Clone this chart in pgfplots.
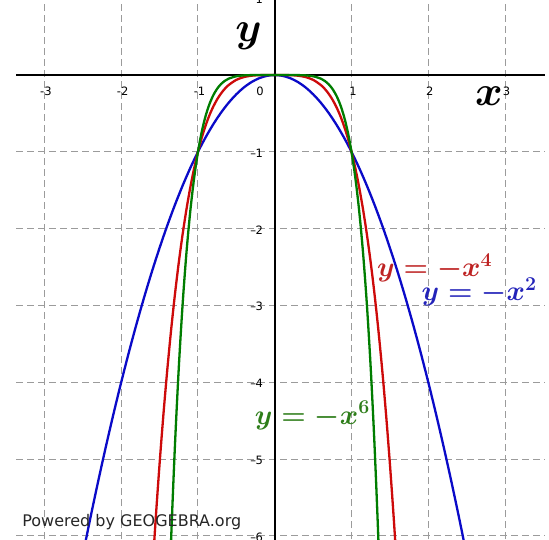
\RequirePackage{fix-cm}
\documentclass[border=0pt]{standalone}
\usepackage{amsmath}
\usepackage{fontspec}
\usepackage{pgfplots}
\pgfplotsset{compat=1.18}
\newfontfamily\ggb{DejaVu Sans}

\definecolor{cblue}{RGB}{10,10,200}
\definecolor{cred}{RGB}{205,10,10}
\definecolor{cgreen}{RGB}{0,125,0}
\definecolor{lblue}{RGB}{35,35,185}
\definecolor{lred}{RGB}{190,35,35}
\definecolor{lgreen}{RGB}{45,125,25}
\definecolor{gridgray}{RGB}{155,155,155}

\begin{document}
\begin{tikzpicture}
\begin{axis}[
  at={(0,0)}, anchor=south west,
  scale only axis, width=529pt, height=539pt,
  xmin=-3.37, xmax=3.52, ymin=-6.04, ymax=0.977,
  axis line style={draw=none}, tick style={draw=none},
  xtick={-3,...,3}, ytick={-6,...,1},
  xticklabels={}, yticklabels={},
  grid=major,
  major grid style={gridgray, line width=1pt, dash pattern=on 7pt off 4pt},
]
% coordinate axes
\draw[line width=2.4pt] (axis cs:-3.37,0) -- (axis cs:3.52,0);
\draw[line width=2.4pt] (axis cs:0,-6.1) -- (axis cs:0,1.1);

% y = -x^2
\addplot[cblue, line width=2.3pt, smooth] coordinates {
(-2.5,-6.25)(-2.4,-5.76)(-2.3,-5.29)(-2.2,-4.84)(-2.1,-4.41)(-2.0,-4)
(-1.9,-3.61)(-1.8,-3.24)(-1.7,-2.89)(-1.6,-2.56)(-1.5,-2.25)(-1.4,-1.96)
(-1.3,-1.69)(-1.2,-1.44)(-1.1,-1.21)(-1,-1)(-0.9,-0.81)(-0.8,-0.64)
(-0.7,-0.49)(-0.6,-0.36)(-0.5,-0.25)(-0.4,-0.16)(-0.3,-0.09)(-0.2,-0.04)
(-0.1,-0.01)(0,0)
(0.1,-0.01)(0.2,-0.04)(0.3,-0.09)(0.4,-0.16)(0.5,-0.25)(0.6,-0.36)
(0.7,-0.49)(0.8,-0.64)(0.9,-0.81)(1,-1)(1.1,-1.21)(1.2,-1.44)(1.3,-1.69)
(1.4,-1.96)(1.5,-2.25)(1.6,-2.56)(1.7,-2.89)(1.8,-3.24)(1.9,-3.61)(2.0,-4)
(2.1,-4.41)(2.2,-4.84)(2.3,-5.29)(2.4,-5.76)(2.5,-6.25)
};

% y = -x^4
\addplot[cred, line width=2.3pt, smooth] coordinates {
(-1.6,-6.5536)(-1.55,-5.7720)(-1.5,-5.0625)(-1.45,-4.4205)(-1.4,-3.8416)
(-1.35,-3.3215)(-1.3,-2.8561)(-1.25,-2.4414)(-1.2,-2.0736)(-1.15,-1.7490)
(-1.1,-1.4641)(-1.05,-1.2155)(-1,-1)(-0.95,-0.8145)(-0.9,-0.6561)
(-0.85,-0.5220)(-0.8,-0.4096)(-0.75,-0.3164)(-0.7,-0.2401)(-0.65,-0.1785)
(-0.6,-0.1296)(-0.5,-0.0625)(-0.4,-0.0256)(-0.3,-0.0081)(-0.2,-0.0016)
(-0.1,-0.0001)(0,0)
(0.1,-0.0001)(0.2,-0.0016)(0.3,-0.0081)(0.4,-0.0256)(0.5,-0.0625)
(0.6,-0.1296)(0.65,-0.1785)(0.7,-0.2401)(0.75,-0.3164)(0.8,-0.4096)
(0.85,-0.5220)(0.9,-0.6561)(0.95,-0.8145)(1,-1)(1.05,-1.2155)(1.1,-1.4641)
(1.15,-1.7490)(1.2,-2.0736)(1.25,-2.4414)(1.3,-2.8561)(1.35,-3.3215)
(1.4,-3.8416)(1.45,-4.4205)(1.5,-5.0625)(1.55,-5.7720)(1.6,-6.5536)
};

% y = -x^6
\addplot[cgreen, line width=2.3pt, smooth] coordinates {
(-1.4,-7.5295)(-1.35,-6.0535)(-1.3,-4.8268)(-1.25,-3.8147)(-1.2,-2.9860)
(-1.15,-2.3131)(-1.1,-1.7716)(-1.05,-1.3401)(-1,-1)(-0.95,-0.7351)
(-0.9,-0.5314)(-0.85,-0.3772)(-0.8,-0.2621)(-0.75,-0.1780)(-0.7,-0.1176)
(-0.65,-0.0754)(-0.6,-0.0467)(-0.5,-0.0156)(-0.4,-0.0041)(-0.3,-0.0007)
(-0.2,-0.0001)(-0.1,0)(0,0)
(0.1,0)(0.2,-0.0001)(0.3,-0.0007)(0.4,-0.0041)(0.5,-0.0156)(0.6,-0.0467)
(0.65,-0.0754)(0.7,-0.1176)(0.75,-0.1780)(0.8,-0.2621)(0.85,-0.3772)
(0.9,-0.5314)(0.95,-0.7351)(1,-1)(1.05,-1.3401)(1.1,-1.7716)(1.15,-2.3131)
(1.2,-2.9860)(1.25,-3.8147)(1.3,-4.8268)(1.35,-6.0535)(1.4,-7.5295)
};

% tick labels
\pgfplotsinvokeforeach{-3,-2,-1,1,2,3}{
  \node[font=\ggb\fontsize{11.5}{11.5}\selectfont] at (axis cs:#1+0.02,-0.21) {#1};
}
\node[font=\ggb\fontsize{11.5}{11.5}\selectfont] at (axis cs:-0.19,-0.21) {0};
\pgfplotsinvokeforeach{-6,-5,-4,-3,-2,-1}{
  \node[anchor=east, inner sep=0pt, font=\ggb\fontsize{11.5}{11.5}\selectfont]
    at (axis cs:-0.15,#1-0.015) {\textendash\kern-0.5pt\relax\the\numexpr-#1\relax};
}
\node[anchor=east, inner sep=0pt, font=\ggb\fontsize{11.5}{11.5}\selectfont]
  at (axis cs:-0.15,0.985) {1};

% axis names
\node[font=\fontsize{42}{42}\selectfont] at (axis cs:-0.34,0.51) {$\boldsymbol{y}$};
\node[font=\fontsize{42}{42}\selectfont] at (axis cs:2.79,-0.27) {$\boldsymbol{x}$};

% curve names
\node[anchor=west, inner sep=0pt, text=lred, font=\fontsize{28}{30}\selectfont]
  at (axis cs:1.33,-2.51) {$\boldsymbol{y=-x^4}$};
\node[anchor=west, inner sep=0pt, text=lblue, font=\fontsize{28}{30}\selectfont]
  at (axis cs:1.91,-2.82) {$\boldsymbol{y=-x^2}$};
\node[anchor=west, inner sep=0pt, text=lgreen, font=\fontsize{28}{30}\selectfont]
  at (axis cs:-0.26,-4.43) {$\boldsymbol{y=-x^6}$};

% credit line
\node[anchor=base west, inner sep=0pt, font=\ggb\fontsize{16}{16}\selectfont, text=black!85]
  at (axis cs:-3.29,-5.88) {Powered by GEOGEBRA.org};
\end{axis}
\pgfresetboundingbox
\path[use as bounding box] (-16pt,0pt) rectangle (533pt,539pt);
\end{tikzpicture}
\end{document}
